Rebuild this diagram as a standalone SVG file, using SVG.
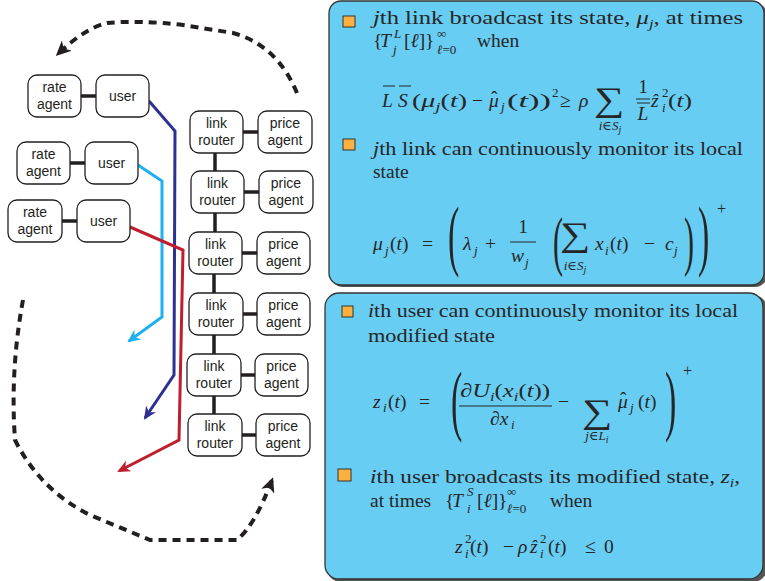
<svg xmlns="http://www.w3.org/2000/svg" width="765" height="581" viewBox="0 0 765 581">
<style>
.node rect{fill:#fff;stroke:#231f20;stroke-width:1.3}
.node text{font-family:"Liberation Sans",Arial,sans-serif;font-size:14px;fill:#231f20;text-anchor:middle}
.bar{stroke:#231f20;stroke-width:3.5}
.t{font-family:"Liberation Serif","DejaVu Serif",serif;font-size:19.5px;fill:#262626}
.i{font-style:italic}
.s{font-size:13px}
.p{font-size:16px}
.m{text-anchor:middle}
.sum{font-size:34px}
.bp{font-size:34px}
.mp{font-size:30px}
.ln{stroke:#262626;stroke-width:1}
.bul{fill:#fbb040;stroke:#333;stroke-width:1}
.box{fill:#68cdf3;stroke:#333;stroke-width:1.3}
.sh{fill:#555}
</style>
<defs>
<marker id="aN" markerWidth="14" markerHeight="12" refX="11" refY="6" orient="auto" markerUnits="userSpaceOnUse"><path d="M0,0 L13,6 L0,12 L4,6 z" fill="#2e3192"/></marker>
<marker id="aC" markerWidth="14" markerHeight="12" refX="11" refY="6" orient="auto" markerUnits="userSpaceOnUse"><path d="M0,0 L13,6 L0,12 L4,6 z" fill="#1eb0ef"/></marker>
<marker id="aR" markerWidth="14" markerHeight="12" refX="11" refY="6" orient="auto" markerUnits="userSpaceOnUse"><path d="M0,0 L13,6 L0,12 L4,6 z" fill="#be1e2d"/></marker>
<marker id="aK" markerWidth="16" markerHeight="14" refX="12" refY="7" orient="auto" markerUnits="userSpaceOnUse"><path d="M0,0 L15,7 L0,14 L4,7 z" fill="#231f20"/></marker>
</defs>

<!-- right boxes -->
<g id="box-top">
<rect class="sh" x="331" y="3" width="436" height="284" rx="12"/>
<rect class="box" x="329" y="1" width="435" height="284" rx="12"/>
</g>
<g id="box-bottom">
<rect class="sh" x="327" y="295" width="440" height="287" rx="14"/>
<rect class="box" x="325" y="293" width="438" height="286" rx="14"/>
</g>

<!-- connectors -->
<g id="connectors" fill="none">
<line class="bar" x1="81" y1="96" x2="96" y2="96"/>
<line class="bar" x1="70" y1="163" x2="85" y2="163"/>
<line class="bar" x1="62" y1="221" x2="77" y2="221"/>
<line class="bar" x1="243" y1="132" x2="258" y2="132"/>
<line class="bar" x1="244" y1="192" x2="259" y2="192"/>
<line class="bar" x1="242" y1="253" x2="257" y2="253"/>
<line class="bar" x1="243" y1="314" x2="257" y2="314"/>
<line class="bar" x1="241" y1="375" x2="255" y2="375"/>
<line class="bar" x1="242" y1="435" x2="256" y2="435"/>
<line class="bar" x1="215" y1="153" x2="215" y2="171"/>
<line class="bar" x1="215" y1="213" x2="215" y2="232"/>
<line class="bar" x1="214" y1="274" x2="214" y2="293"/>
<line class="bar" x1="214" y1="335" x2="214" y2="354"/>
<line class="bar" x1="214" y1="396" x2="214" y2="414"/>
<polyline points="149,101 175,131 174,375 145,418" stroke="#2e3192" stroke-width="3" marker-end="url(#aN)"/>
<polyline points="138,165 162,181 162,317 129,341" stroke="#1eb0ef" stroke-width="3" marker-end="url(#aC)"/>
<polyline points="130,227 183,250 179,440 119,471" stroke="#be1e2d" stroke-width="3" marker-end="url(#aR)"/>
<path d="M297,93 Q277,45 233,33 L183,25 Q140,20 107,23 Q85,28 58,54" stroke="#231f20" stroke-width="4" stroke-dasharray="8,6" marker-end="url(#aK)"/>
<path d="M23,300 Q10,370 15,440 Q40,490 90,515 L150,540 L237,540 Q255,525 272,480" stroke="#231f20" stroke-width="4" stroke-dasharray="8,6" marker-end="url(#aK)"/>
</g>

<!-- nodes -->
<g id="rate-agent-1" class="node"><rect x="28" y="75" width="53" height="42" rx="9"/><text x="54.5" y="92">rate</text><text x="54.5" y="109">agent</text></g>
<g id="user-1" class="node"><rect x="96" y="75" width="53" height="42" rx="9"/><text x="122.5" y="101">user</text></g>
<g id="rate-agent-2" class="node"><rect x="17" y="142" width="53" height="42" rx="9"/><text x="43.5" y="159">rate</text><text x="43.5" y="176">agent</text></g>
<g id="user-2" class="node"><rect x="85" y="142" width="53" height="42" rx="9"/><text x="111.5" y="168">user</text></g>
<g id="rate-agent-3" class="node"><rect x="8" y="200" width="54" height="42" rx="9"/><text x="35" y="217">rate</text><text x="35" y="234">agent</text></g>
<g id="user-3" class="node"><rect x="77" y="200" width="53" height="42" rx="9"/><text x="103.5" y="226">user</text></g>

<g id="link-router-1" class="node"><rect x="190" y="111" width="53" height="42" rx="9"/><text x="216.5" y="128">link</text><text x="216.5" y="145">router</text></g>
<g id="price-agent-1" class="node"><rect x="258" y="111" width="54" height="42" rx="9"/><text x="285" y="128">price</text><text x="285" y="145">agent</text></g>
<g id="link-router-2" class="node"><rect x="191" y="171" width="53" height="42" rx="9"/><text x="217.5" y="188">link</text><text x="217.5" y="205">router</text></g>
<g id="price-agent-2" class="node"><rect x="259" y="171" width="54" height="42" rx="9"/><text x="286" y="188">price</text><text x="286" y="205">agent</text></g>
<g id="link-router-3" class="node"><rect x="189" y="232" width="53" height="42" rx="9"/><text x="215.5" y="249">link</text><text x="215.5" y="266">router</text></g>
<g id="price-agent-3" class="node"><rect x="257" y="232" width="53" height="42" rx="9"/><text x="283.5" y="249">price</text><text x="283.5" y="266">agent</text></g>
<g id="link-router-4" class="node"><rect x="189" y="293" width="54" height="42" rx="9"/><text x="216" y="310">link</text><text x="216" y="327">router</text></g>
<g id="price-agent-4" class="node"><rect x="257" y="293" width="53" height="42" rx="9"/><text x="283.5" y="310">price</text><text x="283.5" y="327">agent</text></g>
<g id="link-router-5" class="node"><rect x="187" y="354" width="54" height="42" rx="9"/><text x="214" y="371">link</text><text x="214" y="388">router</text></g>
<g id="price-agent-5" class="node"><rect x="255" y="354" width="53" height="42" rx="9"/><text x="281.5" y="371">price</text><text x="281.5" y="388">agent</text></g>
<g id="link-router-6" class="node"><rect x="188" y="414" width="54" height="42" rx="9"/><text x="215" y="431">link</text><text x="215" y="448">router</text></g>
<g id="price-agent-6" class="node"><rect x="256" y="414" width="54" height="42" rx="9"/><text x="283" y="431">price</text><text x="283" y="448">agent</text></g>

<!-- top box text -->
<g id="text-top">
<rect class="bul" x="343" y="16" width="12" height="11"/>
<text class="t" x="373" y="24" textLength="370" lengthAdjust="spacingAndGlyphs"><tspan class="i">j</tspan>th link broadcast its state, <tspan class="i">μ</tspan><tspan class="i s" dy="4">j</tspan><tspan dy="-4">, at times</tspan></text>
<text class="t" x="373" y="47">{</text>
<text class="t i" x="380" y="47">T</text>
<text class="t i s" x="394" y="38">L</text>
<text class="t i s" x="393" y="54">j</text>
<text class="t" x="404" y="47">[<tspan class="i">ℓ</tspan>]}</text>
<text class="t s" x="437" y="38">∞</text>
<text class="t s" x="437" y="54"><tspan class="i">ℓ</tspan>=0</text>
<text class="t" x="477" y="47">when</text>

<text class="t i" x="382" y="107">L</text><line class="ln" x1="383" y1="86" x2="395" y2="86"/>
<text class="t i" x="398" y="107">S</text><line class="ln" x1="399" y1="86" x2="411" y2="86"/>
<text class="t" x="412" y="107" textLength="55" lengthAdjust="spacingAndGlyphs">(<tspan class="i">μ</tspan><tspan class="i s" dy="4">j</tspan><tspan dy="-4">(</tspan><tspan class="i">t</tspan>)</text>
<text class="t" x="472" y="107">−</text>
<text class="t i" x="489" y="107">μ</text>
<text class="t" x="491" y="104">ˆ</text>
<text class="t i s" x="501" y="111">j</text>
<text class="t" x="507" y="107" textLength="44" lengthAdjust="spacingAndGlyphs">(<tspan class="i">t</tspan>))</text>
<text class="t s" x="552" y="97">2</text>
<text class="t" x="560" y="107">≥</text>
<text class="t i" x="579" y="107">ρ</text>
<text class="t m sum" transform="translate(609,111) scale(1.25,1)">∑</text>
<text class="t s m i" x="610" y="130">i<tspan font-style="normal">∈</tspan>S<tspan style="font-size:10px" dy="3">j</tspan></text>
<text class="t m" x="643" y="93">1</text>
<line class="ln" x1="636" y1="99" x2="650" y2="99"/>
<text class="t m i" x="643" y="120">L</text><line class="ln" x1="637" y1="103" x2="650" y2="103"/>
<text class="t i" x="651" y="107">ẑ</text>
<text class="t s" x="662" y="97">2</text>
<text class="t i s" x="662" y="112">i</text>
<text class="t" x="668" y="107" textLength="24" lengthAdjust="spacingAndGlyphs">(<tspan class="i">t</tspan>)</text>

<rect class="bul" x="343" y="139" width="12" height="11"/>
<text class="t" x="373" y="155" textLength="370" lengthAdjust="spacingAndGlyphs"><tspan class="i">j</tspan>th link can continuously monitor its local</text>
<text class="t" x="373" y="178">state</text>

<text class="t i" x="373" y="250">μ</text>
<text class="t i s" x="385" y="255">j</text>
<text class="t" x="390" y="250">(<tspan class="i">t</tspan>)</text>
<text class="t" x="422" y="250">=</text>
<text class="t bp" transform="translate(448,261) scale(1,2.3)">(</text>
<text class="t i" x="463" y="250">λ</text>
<text class="t i s" x="474" y="255">j</text>
<text class="t" x="485" y="250">+</text>
<text class="t m" x="523" y="233">1</text>
<line class="ln" x1="510" y1="242" x2="536" y2="242"/>
<text class="t i" x="511" y="262">w</text>
<text class="t i s" x="525" y="267">j</text>
<text class="t mp" transform="translate(553,263) scale(1,2.2)">(</text>
<text class="t m sum" transform="translate(575,246) scale(1.25,1)">∑</text>
<text class="t s m i" x="575" y="270">i<tspan font-style="normal">∈</tspan>S<tspan style="font-size:10px" dy="3">j</tspan></text>
<text class="t i" x="595" y="250">x</text>
<text class="t i s" x="605" y="255">i</text>
<text class="t" x="610" y="250">(<tspan class="i">t</tspan>)</text>
<text class="t" x="644" y="250">−</text>
<text class="t i" x="665" y="250">c</text>
<text class="t i s" x="674" y="255">j</text>
<text class="t mp" transform="translate(684,263) scale(1,2.2)">)</text>
<text class="t bp" transform="translate(698,261) scale(1,2.3)">)</text>
<text class="t p" x="717" y="214">+</text>
</g>

<!-- bottom box text -->
<g id="text-bottom">
<rect class="bul" x="342" y="306" width="11" height="11"/>
<text class="t" x="368" y="317" textLength="370" lengthAdjust="spacingAndGlyphs"><tspan class="i">i</tspan>th user can continuously monitor its local</text>
<text class="t" x="368" y="342" textLength="127" lengthAdjust="spacingAndGlyphs">modified state</text>

<text class="t i" x="373" y="408">z</text>
<text class="t i s" x="383" y="412">i</text>
<text class="t" x="388" y="408">(<tspan class="i">t</tspan>)</text>
<text class="t" x="419" y="408">=</text>
<text class="t bp" transform="translate(451,426) scale(1,2.3)">(</text>
<text class="t" x="460" y="397" textLength="90" lengthAdjust="spacingAndGlyphs"><tspan class="i">∂U</tspan><tspan class="i s" dy="4">i</tspan><tspan dy="-4">(</tspan><tspan class="i">x</tspan><tspan class="i s" dy="4">i</tspan><tspan dy="-4">(</tspan><tspan class="i">t</tspan>))</text>
<line class="ln" x1="459" y1="406" x2="552" y2="406"/>
<text class="t i" x="490" y="425">∂x</text>
<text class="t i s" x="511" y="429">i</text>
<text class="t" x="558" y="408">−</text>
<text class="t m sum" transform="translate(597,423) scale(1.25,1)">∑</text>
<text class="t s m i" x="597" y="440">j<tspan font-style="normal">∈</tspan>L<tspan style="font-size:10px" dy="3">i</tspan></text>
<text class="t i" x="618" y="408">μ</text>
<text class="t" x="620" y="405">ˆ</text>
<text class="t i s" x="630" y="412">j</text>
<text class="t" x="638" y="408">(<tspan class="i">t</tspan>)</text>
<text class="t bp" transform="translate(665,426) scale(1,2.3)">)</text>
<text class="t p" x="683" y="376">+</text>

<rect class="bul" x="338" y="469" width="13" height="12"/>
<text class="t" x="370" y="483" textLength="370" lengthAdjust="spacingAndGlyphs"><tspan class="i">i</tspan>th user broadcasts its modified state, <tspan class="i">z</tspan><tspan class="i s" dy="4">i</tspan><tspan dy="-4">,</tspan></text>
<text class="t" x="370" y="507">at times</text>
<text class="t" x="445" y="507">{</text>
<text class="t i" x="452" y="507">T</text>
<text class="t i s" x="467" y="496">S</text>
<text class="t i s" x="467" y="513">i</text>
<text class="t" x="477" y="507">[<tspan class="i">ℓ</tspan>]}</text>
<text class="t s" x="507" y="496">∞</text>
<text class="t s" x="507" y="513"><tspan class="i">ℓ</tspan>=0</text>
<text class="t" x="550" y="507">when</text>

<text class="t i" x="455" y="553">z</text>
<text class="t s" x="465" y="543">2</text>
<text class="t i s" x="465" y="558">i</text>
<text class="t" x="470" y="553">(<tspan class="i">t</tspan>)</text>
<text class="t" x="503" y="553">−</text>
<text class="t i" x="518" y="553">ρ</text>
<text class="t i" x="530" y="553">ẑ</text>
<text class="t s" x="540" y="543">2</text>
<text class="t i s" x="540" y="558">i</text>
<text class="t" x="548" y="553">(<tspan class="i">t</tspan>)</text>
<text class="t" x="585" y="553">≤</text>
<text class="t" x="604" y="553">0</text>
</g>
</svg>
